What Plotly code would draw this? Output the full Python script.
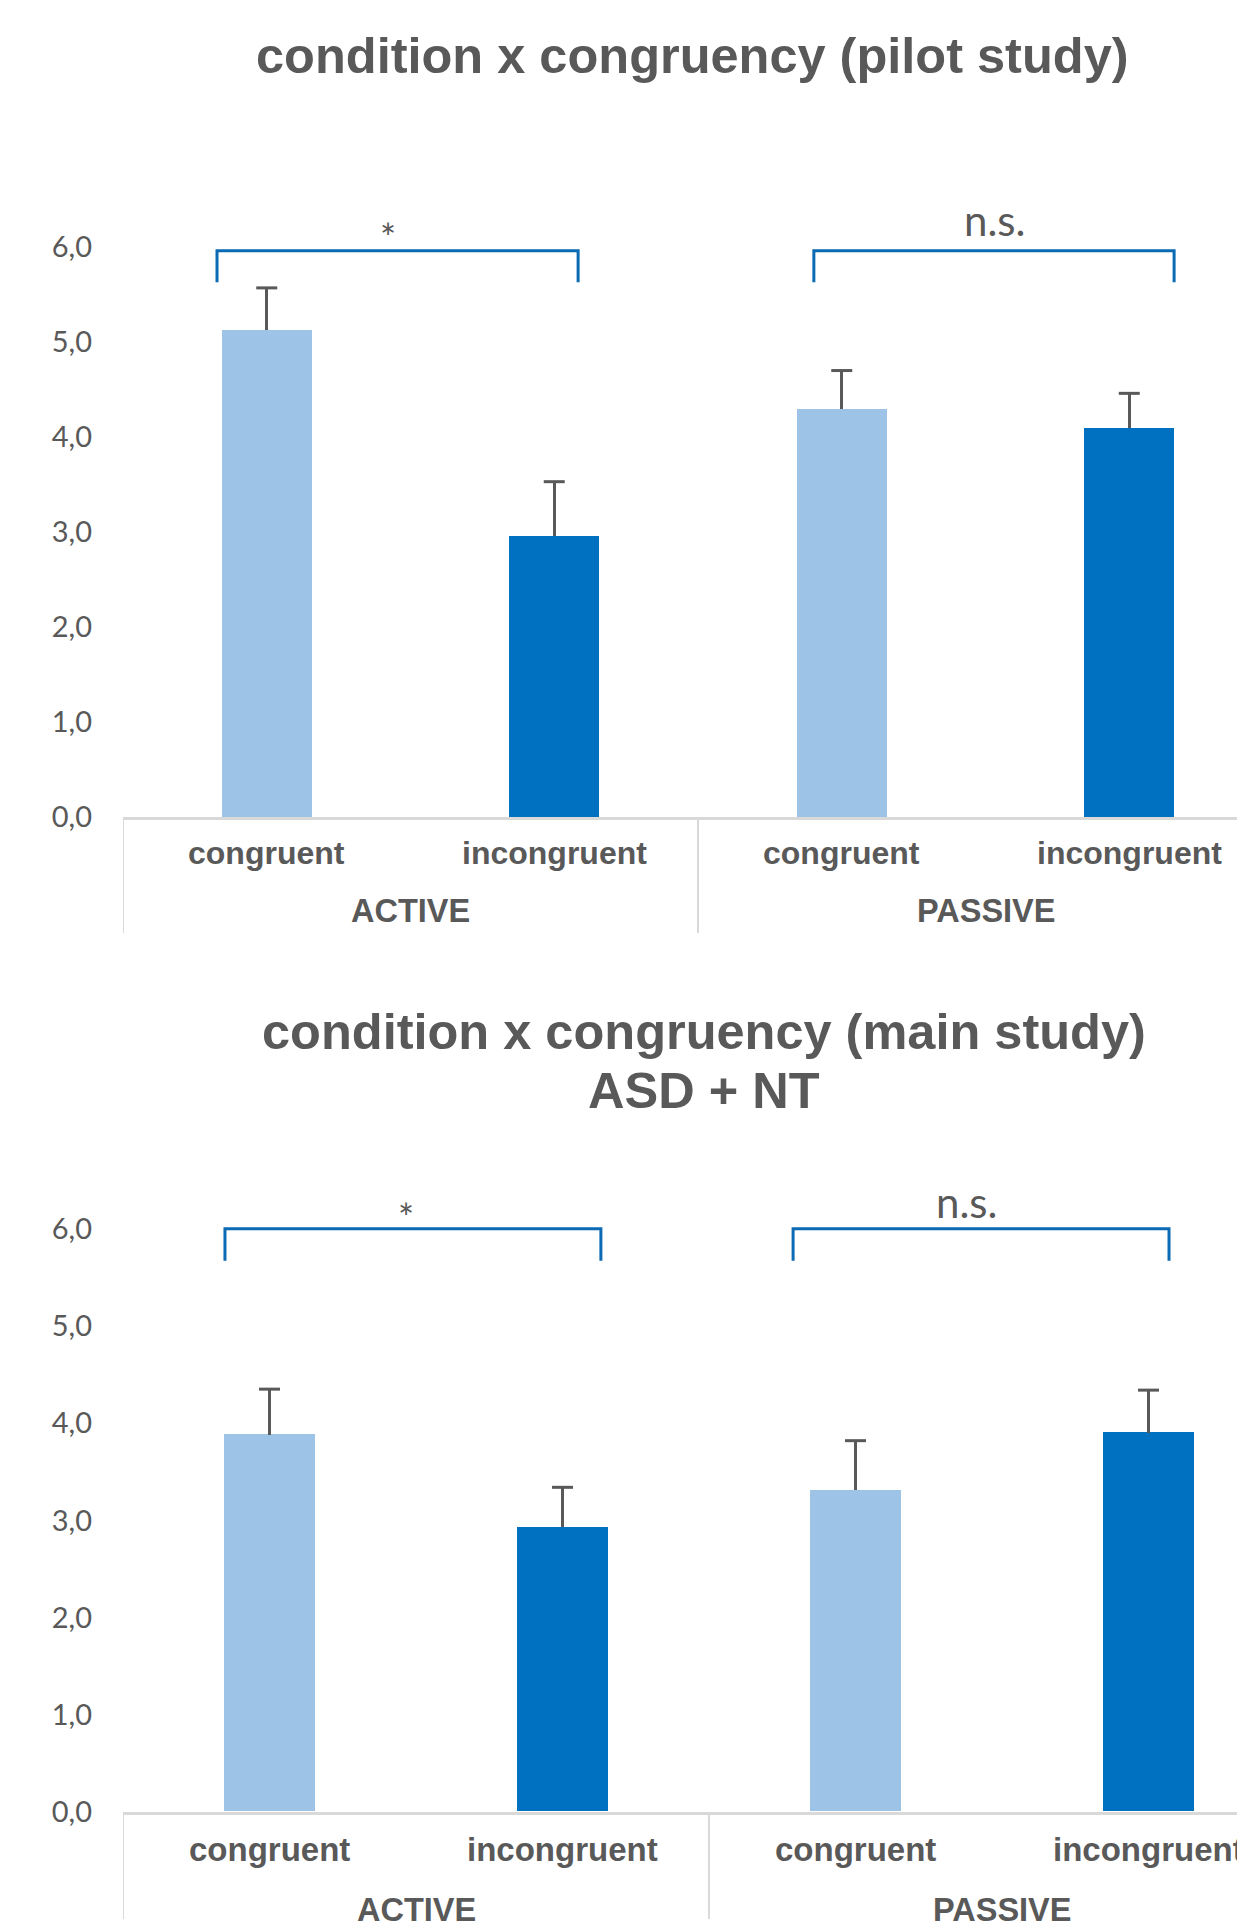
import plotly.graph_objects as go

# ---------------- data ----------------
categories = ["congruent", "incongruent", "congruent", "incongruent"]
groups = ["ACTIVE", "PASSIVE"]
pilot_values = [5.13, 2.96, 4.29, 4.09]
pilot_errors = [0.44, 0.57, 0.41, 0.37]
main_values = [3.88, 2.93, 3.31, 3.90]
main_errors = [0.47, 0.41, 0.51, 0.44]
ytick_vals = [0, 1, 2, 3, 4, 5, 6]
ytick_text = ["0,0", "1,0", "2,0", "3,0", "4,0", "5,0", "6,0"]
title_top = "condition x congruency (pilot study)"
title_bottom_1 = "condition x congruency (main study)"
title_bottom_2 = "ASD + NT"
sig_top = ["*", "n.s."]
sig_bottom = ["*", "n.s."]

PAGE_W, PAGE_H = 1245, 1927
OFF = 8                      # default body margin of the html page
W, H = PAGE_W - OFF, PAGE_H
K = PAGE_H / (PAGE_H + 2 * OFF)   # vertical fit of the page into the picture
LIGHT = "#9DC3E6"
DARK = "#0070C0"
GREY_TXT = "#595959"
AXIS_GREY = "#D9D9D9"
BRACKET = "#0B6AB4"
colors = [LIGHT, DARK, LIGHT, DARK]
xpos = list(range(len(categories)))


def py(t):
    f = t / K - OFF
    return 1 - f / H


def pxx(t):
    return (t - OFF) / W


fig = go.Figure()

err_style = dict(type="data", symmetric=False, color=GREY_TXT, thickness=3, width=0)

for vals, errs, xa, ya, bw in [(pilot_values, pilot_errors, "x", "y", 0.313),
                               (main_values, main_errors, "x2", "y2", 0.31)]:
    fig.add_trace(go.Bar(
        x=xpos, y=vals, width=bw, marker=dict(color=colors, line=dict(width=0)),
        error_y=dict(array=errs, arrayminus=[0] * 4, **err_style),
        xaxis=xa, yaxis=ya, showlegend=False, hoverinfo="y"))
    # caps of the (plus-only) error bars
    fig.add_trace(go.Scatter(
        x=xpos, y=[v + e for v, e in zip(vals, errs)], mode="markers",
        marker=dict(symbol="line-ew", size=15, line=dict(color=GREY_TXT, width=3)),
        xaxis=xa, yaxis=ya, showlegend=False, hoverinfo="skip"))

# axis geometry (picture pixels)
top_y0, top_unit = 817, 95.0
bot_y0, bot_unit = 1812, 97.2
ymax = 6.6
left = 123
top_cat = 287.5
bot_cat = 293.0

yax_common = dict(
    range=[0, ymax], tickvals=ytick_vals, ticktext=ytick_text, showgrid=False,
    zeroline=False, showline=False, ticks="", ticklabelstandoff=30,
    tickfont=dict(family="Lato, Open Sans, sans-serif", size=29, color=GREY_TXT),
)
xax_common = dict(showgrid=False, zeroline=False, showticklabels=False, ticks="",
                  showline=True, linecolor=AXIS_GREY, linewidth=3)

fig.update_layout(
    width=W, height=H, margin=dict(l=0, r=0, t=0, b=0),
    paper_bgcolor="white", plot_bgcolor="white", bargap=0,
    xaxis=dict(domain=[pxx(left), 1], anchor="y",
               range=[-0.5, -0.5 + (PAGE_W - left) / top_cat], **xax_common),
    yaxis=dict(domain=[py(top_y0), py(top_y0 - ymax * top_unit)], anchor="x", **yax_common),
    xaxis2=dict(domain=[pxx(left), 1], anchor="y2",
                range=[-0.5, -0.5 + (PAGE_W - left) / bot_cat], **xax_common),
    yaxis2=dict(domain=[py(bot_y0), py(bot_y0 - ymax * bot_unit)], anchor="x2", **yax_common),
)

shapes = []
annotations = []

# group dividers (vertical lines below the axis)
for xr, y_from, y_to in [("x", 817, 933), ("x2", 1812, 1935)]:
    for xv in [-0.5, 1.5]:
        shapes.append(dict(type="line", xref=xr, yref="paper", x0=xv, x1=xv,
                           y0=py(y_from), y1=max(0, py(y_to)), line=dict(color=AXIS_GREY, width=2)))

# category + group labels
for xr, cat_y, grp_y, cat_size in [("x", 853, 911, 32), ("x2", 1850, 1910, 33)]:
    for i, c in enumerate(categories):
        annotations.append(dict(xref=xr, yref="paper", x=xpos[i], y=py(cat_y), text=c,
                                showarrow=False, xanchor="center", yanchor="middle",
                                font=dict(family="Liberation Sans, Arial, sans-serif",
                                          size=cat_size, color=GREY_TXT, weight="bold")))
    for g, gi in zip(groups, [0.5, 2.5]):
        annotations.append(dict(xref=xr, yref="paper", x=gi, y=py(grp_y), text=g,
                                showarrow=False, xanchor="center", yanchor="middle",
                                font=dict(family="Liberation Sans, Arial, sans-serif",
                                          size=32.5, color=GREY_TXT, weight="bold")))


# significance brackets
def bracket(xr, yr, xa, xb, ytop, ybot):
    shapes.append(dict(type="path", xref=xr, yref=yr,
                       path=f"M {xa},{ybot} L {xa},{ytop} L {xb},{ytop} L {xb},{ybot}",
                       line=dict(color=BRACKET, width=3)))


bracket("x", "y", -0.173, 1.083, 5.96, 5.63)
bracket("x", "y", 1.903, 3.156, 5.96, 5.63)
bracket("x2", "y2", -0.152, 1.131, 6.0, 5.67)
bracket("x2", "y2", 1.787, 3.07, 6.0, 5.67)

star_font = dict(family="Lato, Open Sans, sans-serif", size=38, color=GREY_TXT)
ns_font = dict(family="Lato, Open Sans, sans-serif", size=42, color=GREY_TXT)
annotations += [
    dict(xref="x", yref="y", x=0.42, y=6.11, text=sig_top[0], showarrow=False, font=star_font),
    dict(xref="x", yref="y", x=2.53, y=6.29, text=sig_top[1], showarrow=False, font=ns_font),
    dict(xref="x2", yref="y2", x=0.466, y=6.12, text=sig_bottom[0], showarrow=False, font=star_font),
    dict(xref="x2", yref="y2", x=2.38, y=6.28, text=sig_bottom[1], showarrow=False, font=ns_font),
]

# titles
title_font = dict(family="Liberation Sans, Arial, sans-serif", size=50.5, color=GREY_TXT, weight="bold")
annotations += [
    dict(xref="paper", yref="paper", x=pxx(692), y=py(55), text=title_top, showarrow=False,
         xanchor="center", yanchor="middle", font=title_font),
    dict(xref="paper", yref="paper", x=pxx(704), y=py(1032), text=title_bottom_1, showarrow=False,
         xanchor="center", yanchor="middle", font=title_font),
    dict(xref="paper", yref="paper", x=pxx(704), y=py(1091), text=title_bottom_2, showarrow=False,
         xanchor="center", yanchor="middle", font=title_font),
]

fig.update_layout(shapes=shapes, annotations=annotations)
fig.write_html("out.html")
